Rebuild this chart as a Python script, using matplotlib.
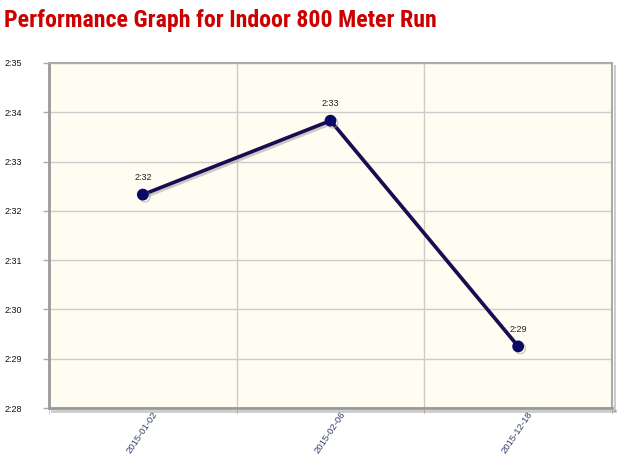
import matplotlib
matplotlib.use("Agg")
import matplotlib.pyplot as plt
import matplotlib.patheffects as pe
import matplotlib.transforms as mtransforms
import numpy as np

# data
dates = ["2015-01-02", "2015-02-06", "2015-12-18"]
seconds = [152.33, 153.83, 149.25]     # run times in seconds
y_ticks = [148, 149, 150, 151, 152, 153, 154, 155]


def fmt(s):
    s = int(s)
    return f"{s // 60}:{s % 60:02d}"


fig = plt.figure(figsize=(6.36, 4.67), dpi=100)
ax = fig.add_axes([49/636, 1 - 408/467, 563/636, 345/467])
ax.set_facecolor("#fffcf2")

x = np.arange(len(dates))
ax.plot(x, seconds, color="#1c0a52", lw=2.6, marker="o", ms=7.5,
        mfc="#0a0a66", mec="#0a0a66", zorder=5,
        path_effects=[pe.SimpleLineShadow(offset=(1.5, -1.5), shadow_color="#999999", alpha=0.5),
                      pe.Normal()])
for xi, s in zip(x, seconds):
    ax.annotate(fmt(s), (xi, s), xytext=(0, 9), textcoords="offset points",
                ha="center", va="bottom", fontsize=6.5, color="#222222",
                family="Liberation Sans")

ax.set_xlim(-0.5, len(dates) - 0.5)
ax.set_ylim(148, 155)
ax.set_yticks(y_ticks)
ax.set_yticklabels([fmt(t) for t in y_ticks], fontsize=6.5, family="Liberation Sans",
                   ha="left", color="#111111")
ax.tick_params(axis="y", pad=27.5, length=4.3, color="#aaaaaa", width=1)
for lbl in ax.get_yticklabels():
    lbl.set_verticalalignment("center_baseline")

ax.set_xticks(x)
ax.set_xticklabels(dates, rotation=56, ha="right", va="top", rotation_mode="anchor",
                   fontsize=6.8, family="Liberation Sans", color="#334466")
ax.tick_params(axis="x", length=0, pad=3)
shift = mtransforms.ScaledTranslation(9/100, 2/100, fig.dpi_scale_trans)
for lbl in ax.get_xticklabels():
    lbl.set_transform(lbl.get_transform() + shift)
ax.set_xticks(np.arange(-0.5, len(dates)), minor=True)
ax.tick_params(axis="x", which="minor", length=4, color="#cccccc")

ax.grid(True, axis="y", color="#cccccc", lw=1)
for b in np.arange(0.5, len(dates) - 0.5):
    ax.axvline(b, color="#cccccc", lw=1, zorder=0)

for side in ["left", "bottom"]:
    ax.spines[side].set_color("#999999")
    ax.spines[side].set_linewidth(2)
for side in ["top", "right"]:
    ax.spines[side].set_color("#aaaaaa")
    ax.spines[side].set_linewidth(1.5)
ax.spines["right"].set_path_effects([pe.SimpleLineShadow(offset=(2, -2), alpha=0.2), pe.Normal()])
ax.spines["bottom"].set_path_effects([pe.SimpleLineShadow(offset=(2, -2), alpha=0.2), pe.Normal()])

fig.text(4/636, 1 - 20/467, "Performance Graph for Indoor 800 Meter Run",
         fontsize=17.2, fontweight="bold", color="#cc0000",
         family=["Roboto Condensed", "Liberation Sans Narrow", "Roboto"], va="center", ha="left")

fig.savefig("out.png", dpi=100)
